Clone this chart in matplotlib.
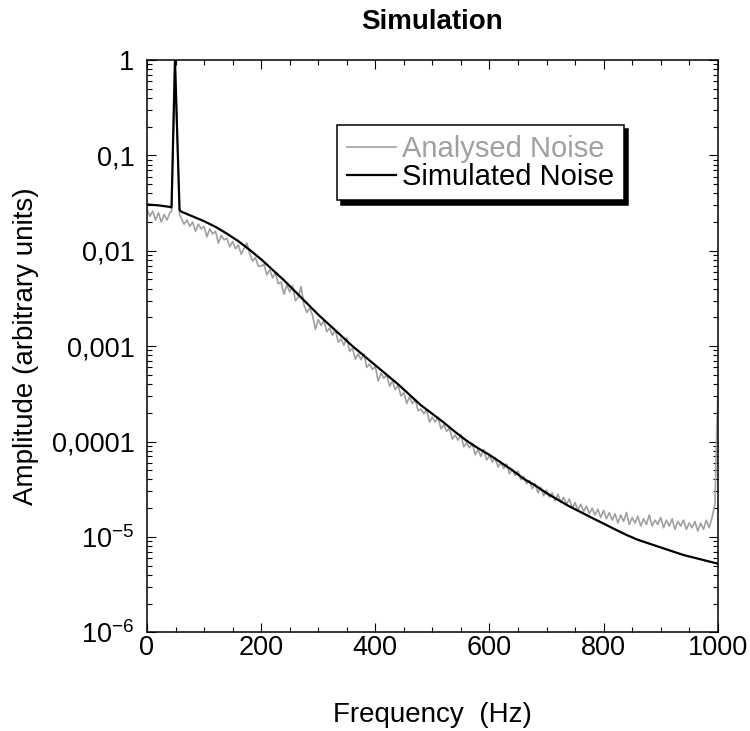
import numpy as np
import matplotlib.pyplot as plt
from matplotlib.ticker import FixedLocator, FixedFormatter, MultipleLocator

plt.rcParams['font.family'] = ['Liberation Sans', 'DejaVu Sans']
plt.rcParams['mathtext.fontset'] = 'custom'
plt.rcParams['mathtext.rm'] = 'Liberation Sans'
plt.rcParams['mathtext.it'] = 'Liberation Sans:italic'
plt.rcParams['mathtext.bf'] = 'Liberation Sans:bold'

# --- simulated noise (smooth model with the 50 Hz line) ---
sim_freq = [0, 20, 40, 43, 49, 57, 60, 80, 100, 120, 140, 160, 180, 200,
            220, 240, 260, 280, 300, 320, 340, 360, 380, 400, 420, 440,
            460, 480, 500, 520, 540, 560, 580, 600, 620, 640, 660, 680,
            700, 720, 740, 760, 780, 800, 820, 840, 860, 880, 900, 920,
            940, 960, 980, 1000]
sim_amp = [0.0305, 0.0299, 0.0288, 0.0285, 1.0, 0.0269, 0.0257, 0.0229,
           0.0204, 0.0178, 0.0151, 0.0126, 0.0102, 8.13e-3, 6.31e-3,
           4.90e-3, 3.72e-3, 2.82e-3, 2.14e-3, 1.66e-3, 1.29e-3, 1.00e-3,
           7.94e-4, 6.31e-4, 5.01e-4, 3.98e-4, 3.09e-4, 2.40e-4, 1.95e-4,
           1.58e-4, 1.26e-4, 1.02e-4, 8.51e-5, 7.24e-5, 6.03e-5, 5.01e-5,
           4.07e-5, 3.47e-5, 2.88e-5, 2.45e-5, 2.09e-5, 1.82e-5, 1.58e-5,
           1.38e-5, 1.20e-5, 1.05e-5, 9.33e-6, 8.51e-6, 7.76e-6, 7.08e-6,
           6.46e-6, 6.03e-6, 5.62e-6, 5.25e-6]

# --- analysed (measured) noise ---
ana_freq = np.concatenate([np.arange(0, 41, 5), [43, 49, 57], np.arange(60, 1001, 5)])
ana_amp = [
    0.027, 0.023, 0.026, 0.021, 0.025, 0.020, 0.024, 0.021, 0.025,
    0.026, 1.0, 0.024,
    0.022, 0.019, 0.021, 0.018, 0.020, 0.016, 0.019, 0.017, 0.018, 0.014,
    0.017, 0.015, 0.016, 0.012, 0.0145, 0.013, 0.0135, 0.011, 0.0125, 0.0105,
    0.0115, 0.0092, 0.0105, 0.012, 0.0093, 0.0078, 0.0085, 0.0069, 6.9e-3, 7.2e-3,
    5.6e-3, 6.3e-3, 5.2e-3, 5.9e-3, 4.5e-3, 4.7e-3, 3.5e-3, 4.4e-3, 3.7e-3, 4.3e-3,
    3.0e-3, 3.25e-3, 4.2e-3, 2.7e-3, 2.25e-3, 2.5e-3, 2.1e-3, 1.5e-3, 1.9e-3, 1.65e-3,
    1.85e-3, 1.42e-3, 1.55e-3, 1.3e-3, 1.49e-3, 1.1e-3, 1.19e-3, 1.02e-3, 1.22e-3, 8.8e-4,
    9.5e-4, 7.3e-4, 8.3e-4, 7.2e-4, 8.3e-4, 6.0e-4, 6.5e-4, 5.7e-4, 6.1e-4, 4.3e-4,
    5.2e-4, 4.6e-4, 5.0e-4, 3.8e-4, 4.3e-4, 3.5e-4, 3.9e-4, 3.0e-4, 3.25e-4, 2.5e-4,
    2.95e-4, 2.5e-4, 2.75e-4, 2.1e-4, 2.2e-4, 1.95e-4, 2.15e-4, 1.6e-4, 1.8e-4, 1.6e-4,
    1.8e-4, 1.36e-4, 1.5e-4, 1.28e-4, 1.38e-4, 1.06e-4, 1.17e-4, 1.03e-4, 1.18e-4, 8.8e-5,
    9.7e-5, 8.6e-5, 9.5e-5, 7.3e-5, 8.2e-5, 7.0e-5, 8.2e-5, 6.4e-5, 7.1e-5, 6.1e-5,
    6.8e-5, 5.4e-5, 6.0e-5, 5.2e-5, 5.8e-5, 4.6e-5, 5.1e-5, 4.4e-5, 4.9e-5, 4.0e-5,
    4.3e-5, 3.6e-5, 3.9e-5, 3.2e-5, 3.6e-5, 2.9e-5, 3.3e-5, 2.7e-5, 3.1e-5, 2.6e-5,
    2.9e-5, 2.4e-5, 2.8e-5, 2.3e-5, 2.6e-5, 2.2e-5, 2.5e-5, 2.0e-5, 2.3e-5, 1.9e-5,
    2.2e-5, 1.85e-5, 2.1e-5, 1.75e-5, 2.0e-5, 1.7e-5, 1.95e-5, 1.6e-5, 1.9e-5, 1.55e-5,
    1.8e-5, 1.5e-5, 1.75e-5, 1.4e-5, 1.7e-5, 1.45e-5, 1.8e-5, 1.35e-5, 1.6e-5, 1.4e-5,
    1.65e-5, 1.3e-5, 1.55e-5, 1.35e-5, 1.7e-5, 1.3e-5, 1.5e-5, 1.35e-5, 1.6e-5, 1.25e-5,
    1.5e-5, 1.3e-5, 1.55e-5, 1.2e-5, 1.45e-5, 1.3e-5, 1.5e-5, 1.2e-5, 1.4e-5, 1.25e-5,
    1.45e-5, 1.15e-5, 1.4e-5, 1.2e-5, 1.5e-5, 1.25e-5, 1.6e-5, 2.2e-5, 3.0e-4,
]

y_ticks = [1e-6, 1e-5, 1e-4, 1e-3, 1e-2, 1e-1, 1]
y_tick_labels = [r'10$^{\mathregular{-6}}$', r'10$^{\mathregular{-5}}$',
                 '0,0001', '0,001', '0,01', '0,1', '1']

gray = '#a0a0a0'

fig = plt.figure(figsize=(7.5, 7.31), dpi=100)
ax = fig.add_axes([0.196, 0.135, 0.761, 0.783])

ax.plot(ana_freq, ana_amp, color=gray, lw=1.2, label='Analysed Noise')
ax.plot(sim_freq, sim_amp, color='black', lw=1.6, label='Simulated Noise')

ax.set_yscale('log')
ax.set_xlim(0, 1000)
ax.set_ylim(1e-6, 1)

ax.xaxis.set_major_locator(MultipleLocator(200))
ax.xaxis.set_minor_locator(MultipleLocator(50))
ax.yaxis.set_major_locator(FixedLocator(y_ticks))
ax.yaxis.set_major_formatter(FixedFormatter(y_tick_labels))

ax.tick_params(which='both', direction='in', top=True, right=True, width=0.8)
ax.tick_params(which='major', length=6.5, labelsize=19.5)
ax.tick_params(which='minor', length=3.6)
ax.tick_params(axis='x', which='major', pad=2)
ax.tick_params(axis='y', which='major', pad=9)
for sp in ax.spines.values():
    sp.set_linewidth(1.1)

ax.set_title('Simulation', fontsize=20, fontweight='bold', pad=22.5)
ax.set_xlabel('Frequency  (Hz)', fontsize=20)
ax.set_ylabel('Amplitude (arbitrary units)', fontsize=20)
ax.xaxis.set_label_coords(0.5, -0.121)
ax.yaxis.set_label_coords(-0.19, 0.5)

leg = ax.legend(loc='upper left', bbox_to_anchor=(0.333, 0.886), borderaxespad=0,
                fontsize=21, frameon=True, fancybox=False, edgecolor='black',
                framealpha=1, handlelength=1.7, handletextpad=0.2,
                borderpad=0.33, labelspacing=0.0,
                shadow={'ox': 3, 'oy': -3, 'color': 'black', 'alpha': 1})
leg.get_frame().set_linewidth(1.1)
leg.get_texts()[0].set_color(gray)

fig.savefig('out.png', dpi=100)
